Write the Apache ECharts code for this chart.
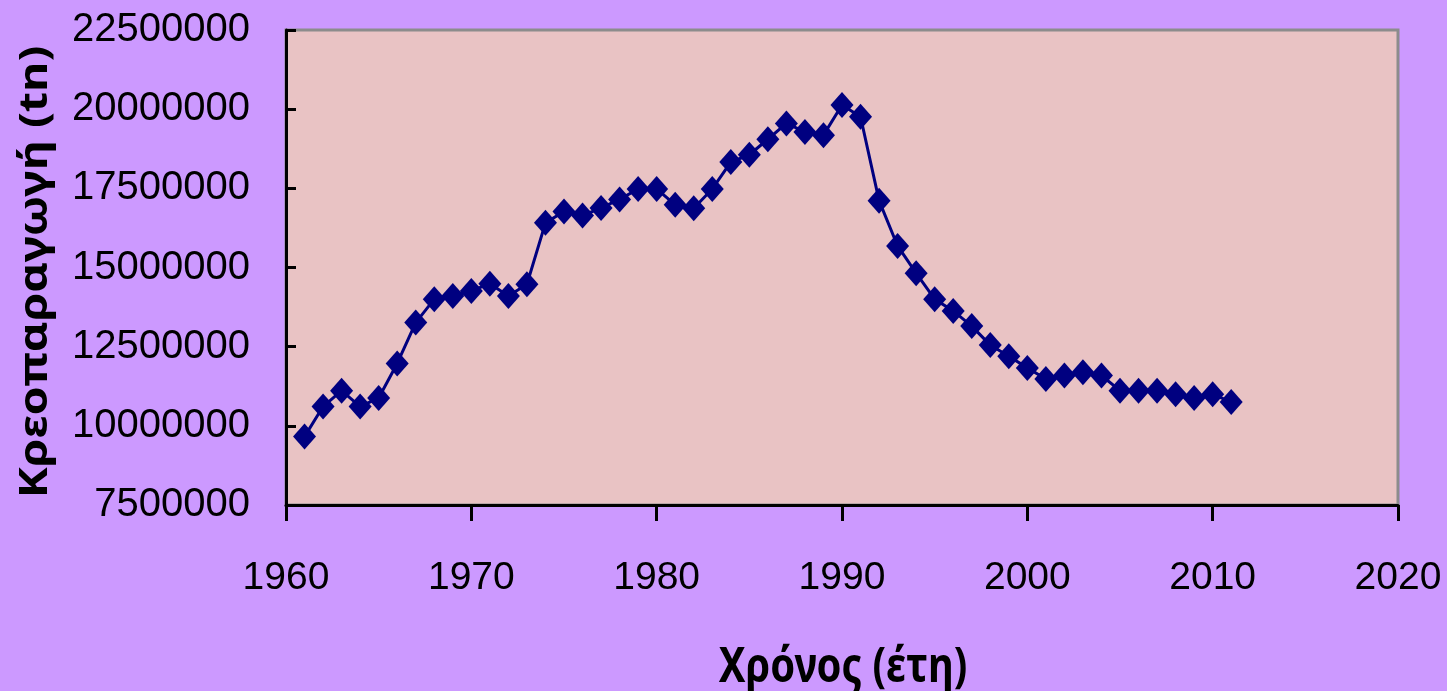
<!DOCTYPE html>
<html>
<head>
<meta charset="utf-8">
<script src="https://cdn.jsdelivr.net/npm/echarts@6/dist/echarts.min.js"></script>
<style>
html,body{margin:0;padding:0;background:#CC99FF;}
#chart{width:1447px;height:691px;}
</style>
</head>
<body>
<div id="chart"></div>
<script>
const years = [1961,1962,1963,1964,1965,1966,1967,1968,1969,1970,
  1971,1972,1973,1974,1975,1976,1977,1978,1979,1980,
  1981,1982,1983,1984,1985,1986,1987,1988,1989,1990,
  1991,1992,1993,1994,1995,1996,1997,1998,1999,2000,
  2001,2002,2003,2004,2005,2006,2007,2008,2009,2010,2011];
const production = [9660000,10610000,11110000,10610000,10880000,11970000,13260000,14000000,14100000,14260000,
  14490000,14100000,14470000,16410000,16770000,16640000,16880000,17150000,17480000,17480000,
  16980000,16870000,17480000,18330000,18560000,19050000,19550000,19280000,19180000,20130000,
  19760000,17110000,15680000,14820000,14000000,13630000,13150000,12550000,12200000,11830000,
  11480000,11590000,11690000,11590000,11110000,11110000,11110000,11000000,10880000,11000000,10750000];
const xTitle = 'Χρόνος (έτη)';
const yTitle = 'Κρεοπαραγωγή (tn)';

const titleFont = {fontFamily: 'Noto Sans', fontWeight: 'bold', fontSize: 40, fill: '#000',
  textAlign: 'center', textVerticalAlign: 'middle'};

const chart = echarts.init(document.getElementById('chart'));
chart.setOption({
  backgroundColor: '#CC99FF',
  animation: false,
  grid: {
    left: 286, top: 30, right: 49, bottom: 186,
    show: true, backgroundColor: '#E9C3C4', borderColor: '#8C8C8C', borderWidth: 3
  },
  graphic: [
    {type: 'text', x: 843, y: 668, scaleY: 1.22, silent: true,
     style: Object.assign({text: xTitle, x: 0, y: 0}, titleFont)},
    {type: 'text', x: 36, y: 272, rotation: Math.PI / 2, scaleX: 1.2, silent: true,
     style: Object.assign({text: yTitle, x: 0, y: 0}, titleFont, {fontSize: 39})}
  ],
  xAxis: {
    type: 'value', min: 1960, max: 2020, interval: 10,
    axisLine: {show: true, onZero: false, lineStyle: {color: '#000', width: 3}},
    axisTick: {show: true, inside: false, length: 16, lineStyle: {color: '#000', width: 3}},
    axisLabel: {fontFamily: 'Liberation Sans', fontSize: 39, color: '#000', margin: 54,
      formatter: v => String(v)},
    splitLine: {show: false}
  },
  yAxis: {
    type: 'value', min: 7500000, max: 22500000, interval: 2500000,
    axisLine: {show: true, onZero: false, lineStyle: {color: '#000', width: 3}},
    axisTick: {show: true, inside: true, length: 10, lineStyle: {color: '#000', width: 3}},
    axisLabel: {fontFamily: 'Liberation Sans', fontSize: 40, color: '#000', margin: 36,
      padding: [8, 0, 0, 0], formatter: v => String(v)},
    splitLine: {show: false}
  },
  series: [{
    type: 'line',
    data: years.map((y, i) => [y, production[i]]),
    symbol: 'diamond', symbolSize: [23, 26],
    itemStyle: {color: '#000080'},
    lineStyle: {color: '#000080', width: 3}
  }]
});
</script>
</body>
</html>
